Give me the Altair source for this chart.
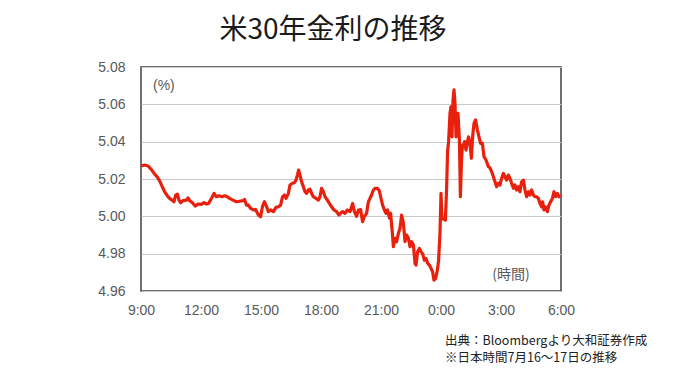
import altair as alt
import pandas as pd

# hours elapsed since 9:00 (JST, Jul 16) and US 30y yield (%)
hours = [
    0.0, 0.18, 0.35, 0.52, 0.68, 0.82, 0.93, 1.05, 1.18, 1.32, 1.43, 1.55, 1.65, 1.73, 1.82, 1.9, 1.98,
    2.1, 2.27, 2.35, 2.43, 2.57, 2.72, 2.85, 3.02, 3.15, 3.27, 3.38, 3.52, 3.65, 3.77, 3.9, 4.05, 4.18,
    4.32, 4.43, 4.6, 4.77, 4.93, 5.1, 5.18, 5.27, 5.37, 5.48, 5.62, 5.73, 5.87, 5.98, 6.08, 6.17, 6.25,
    6.37, 6.48, 6.62, 6.75, 6.87, 6.98, 7.08, 7.17, 7.25, 7.37, 7.45, 7.57, 7.67, 7.75, 7.82, 7.88, 7.95,
    8.03, 8.12, 8.2, 8.28, 8.37, 8.45, 8.53, 8.62, 8.75, 8.87, 8.95, 9.03, 9.12, 9.2, 9.32, 9.42, 9.53,
    9.65, 9.78, 9.9, 10.0, 10.08, 10.2, 10.32, 10.45, 10.58, 10.67, 10.78, 10.87, 10.98, 11.08, 11.17,
    11.28, 11.37, 11.45, 11.53, 11.62, 11.7, 11.82, 11.92, 12.0, 12.08, 12.17, 12.25, 12.33, 12.42,
    12.48, 12.57, 12.62, 12.7, 12.78, 12.87, 12.95, 13.03, 13.12, 13.2, 13.28, 13.37, 13.45, 13.53,
    13.62, 13.7, 13.75, 13.83, 13.92, 14.0, 14.08, 14.17, 14.25, 14.33, 14.42, 14.5, 14.58, 14.65,
    14.73, 14.82, 14.88, 14.95, 15.0, 15.05, 15.12, 15.17, 15.22, 15.28, 15.33, 15.38, 15.45, 15.5,
    15.55, 15.6, 15.65, 15.7, 15.75, 15.78, 15.85, 15.92, 15.97, 16.02, 16.07, 16.12, 16.18, 16.25,
    16.32, 16.38, 16.45, 16.52, 16.58, 16.65, 16.73, 16.82, 16.9, 16.98, 17.07, 17.15, 17.25, 17.37,
    17.45, 17.53, 17.62, 17.7, 17.78, 17.87, 17.95, 18.03, 18.12, 18.2, 18.28, 18.37, 18.45, 18.53,
    18.62, 18.7, 18.78, 18.87, 18.95, 19.03, 19.12, 19.2, 19.28, 19.37, 19.45, 19.53, 19.62, 19.7,
    19.78, 19.87, 19.95, 20.03, 20.08, 20.15, 20.23, 20.32, 20.4, 20.48, 20.57, 20.65, 20.73, 20.82,
    20.9, 20.98,
]
yields = [
    5.027, 5.0275, 5.027, 5.025, 5.0227, 5.021, 5.019, 5.0162, 5.0132, 5.0109, 5.0096, 5.0087, 5.0078,
    5.0114, 5.0119, 5.0087, 5.0073, 5.0084, 5.0087, 5.0099, 5.0084, 5.0073, 5.0055, 5.0066, 5.0064,
    5.0073, 5.0066, 5.0069, 5.0096, 5.0123, 5.0105, 5.011, 5.0105, 5.011, 5.0105, 5.0096, 5.0087,
    5.0078, 5.0081, 5.0084, 5.009, 5.006, 5.006, 5.0043, 5.0034, 5.0037, 5.0007, 4.9998, 5.0055,
    5.0078, 5.006, 5.0025, 5.0034, 5.0025, 5.0048, 5.0051, 5.006, 5.0105, 5.0114, 5.0096, 5.0123,
    5.0168, 5.0177, 5.018, 5.0194, 5.0221, 5.0248, 5.0221, 5.0185, 5.0158, 5.0132, 5.0123, 5.0141,
    5.0145, 5.0123, 5.0105, 5.0096, 5.0087, 5.0105, 5.015, 5.0132, 5.0105, 5.0087, 5.0069, 5.0051,
    5.0034, 5.0025, 5.0007, 5.0019, 5.0025, 5.0016, 5.0034, 5.0025, 5.0069, 5.0025, 5.0, 5.0034,
    5.0036, 4.9971, 5.0, 5.0016, 5.0078, 5.0096, 5.0114, 5.0141, 5.015, 5.015, 5.0136, 5.0096, 5.006,
    5.0034, 5.0016, 5.0034, 4.9991, 5.0016, 4.9909, 4.9837, 4.9882, 4.9864, 4.9909, 4.9935, 5.0007,
    4.9962, 4.9864, 4.99, 4.9882, 4.9837, 4.9864, 4.9846, 4.9748, 4.9739, 4.981, 4.9828, 4.981, 4.98,
    4.9765, 4.9774, 4.9748, 4.9739, 4.9721, 4.9703, 4.9658, 4.9667, 4.9712, 4.9765, 4.991, 5.0123,
    4.999, 4.9985, 4.9985, 4.998, 5.015, 5.035, 5.04, 5.0552, 5.0587, 5.0426, 5.0623, 5.0677, 5.0605,
    5.0426, 5.0516, 5.0552, 5.0409, 5.0105, 5.0284, 5.0382, 5.0373, 5.04, 5.0355, 5.04, 5.0426, 5.039,
    5.0311, 5.0426, 5.0498, 5.0516, 5.0462, 5.0426, 5.0391, 5.0391, 5.032, 5.0302, 5.0266, 5.026,
    5.0239, 5.0212, 5.0185, 5.0159, 5.0177, 5.0168, 5.0203, 5.023, 5.0212, 5.0194, 5.0221, 5.0203,
    5.0177, 5.015, 5.0168, 5.0141, 5.0159, 5.0132, 5.0185, 5.0194, 5.0141, 5.0105, 5.0132, 5.0114,
    5.0141, 5.0114, 5.0105, 5.0105, 5.0096, 5.0069, 5.0051, 5.0078, 5.0034, 5.0051, 5.0025, 5.0061,
    5.0078, 5.0096, 5.0132, 5.0105, 5.0123, 5.0105, 5.0114,
]

x_tick_hours = [0, 3, 6, 9, 12, 15, 18, 21]
x_tick_labels = ["9:00", "12:00", "15:00", "18:00", "21:00", "0:00", "3:00", "6:00"]
y_ticks = [4.96, 4.98, 5.00, 5.02, 5.04, 5.06, 5.08]

title_text = "米30年金利の推移"
unit_text = "(%)"
time_text = "(時間)"
source_lines = ["出典：Bloombergより大和証券作成", "※日本時間7月16～17日の推移"]

df = pd.DataFrame({"h": hours, "y": yields})

label_map = "{" + ",".join(f"'{h}':'{l}'" for h, l in zip(x_tick_hours, x_tick_labels)) + "}"

W, H = 420, 224
axis_font = "Liberation Sans"
gray = "#595959"

line = alt.Chart(df).mark_line(color="#e8200c", strokeWidth=3.2, strokeJoin="round").encode(
    x=alt.X("h:Q", scale=alt.Scale(domain=[0, 21], nice=False, zero=False),
            axis=alt.Axis(values=x_tick_hours, labelExpr=f"{label_map}[''+datum.value]",
                          grid=False, ticks=False, domain=False, title=None,
                          labelFontSize=14, labelColor=gray, labelFont=axis_font,
                          labelPadding=12, labelFlush=False)),
    y=alt.Y("y:Q", scale=alt.Scale(domain=[4.96, 5.08], nice=False, zero=False),
            axis=alt.Axis(values=y_ticks, format=".2f", grid=True, gridColor="#c8c8c8",
                          gridWidth=1.2, ticks=False, domain=False, title=None,
                          labelFontSize=14, labelColor=gray, labelFont=axis_font,
                          labelPadding=16)),
)

def text_layer(txt, x, y, size, color, font, align="left"):
    return alt.Chart(pd.DataFrame({"t": [txt]})).mark_text(
        fontSize=size, color=color, font=font, align=align, baseline="middle"
    ).encode(text="t:N", x=alt.value(x), y=alt.value(y))

layers = [
    line,
    text_layer(title_text, 192, -36, 28, "#1a1a1a", "Noto Sans CJK JP", "center"),
    text_layer(unit_text, 12, 19, 14, gray, axis_font),
    text_layer(time_text, 370, 208, 14, gray, "Noto Sans CJK JP", "center"),
    text_layer(source_lines[0], 304, 274, 12.5, "#222222", "Noto Sans CJK JP"),
    text_layer(source_lines[1], 304, 291, 12.5, "#222222", "Noto Sans CJK JP"),
]

chart = alt.layer(*layers).properties(
    width=W, height=H,
    autosize=alt.AutoSizeParams(type="none"),
    padding={"left": 133, "top": 59, "right": 100, "bottom": 75},
    background="white",
).configure_view(stroke="#404040", strokeWidth=1.5)

chart.save("out.html", embed_options={"renderer": "svg", "actions": False})
